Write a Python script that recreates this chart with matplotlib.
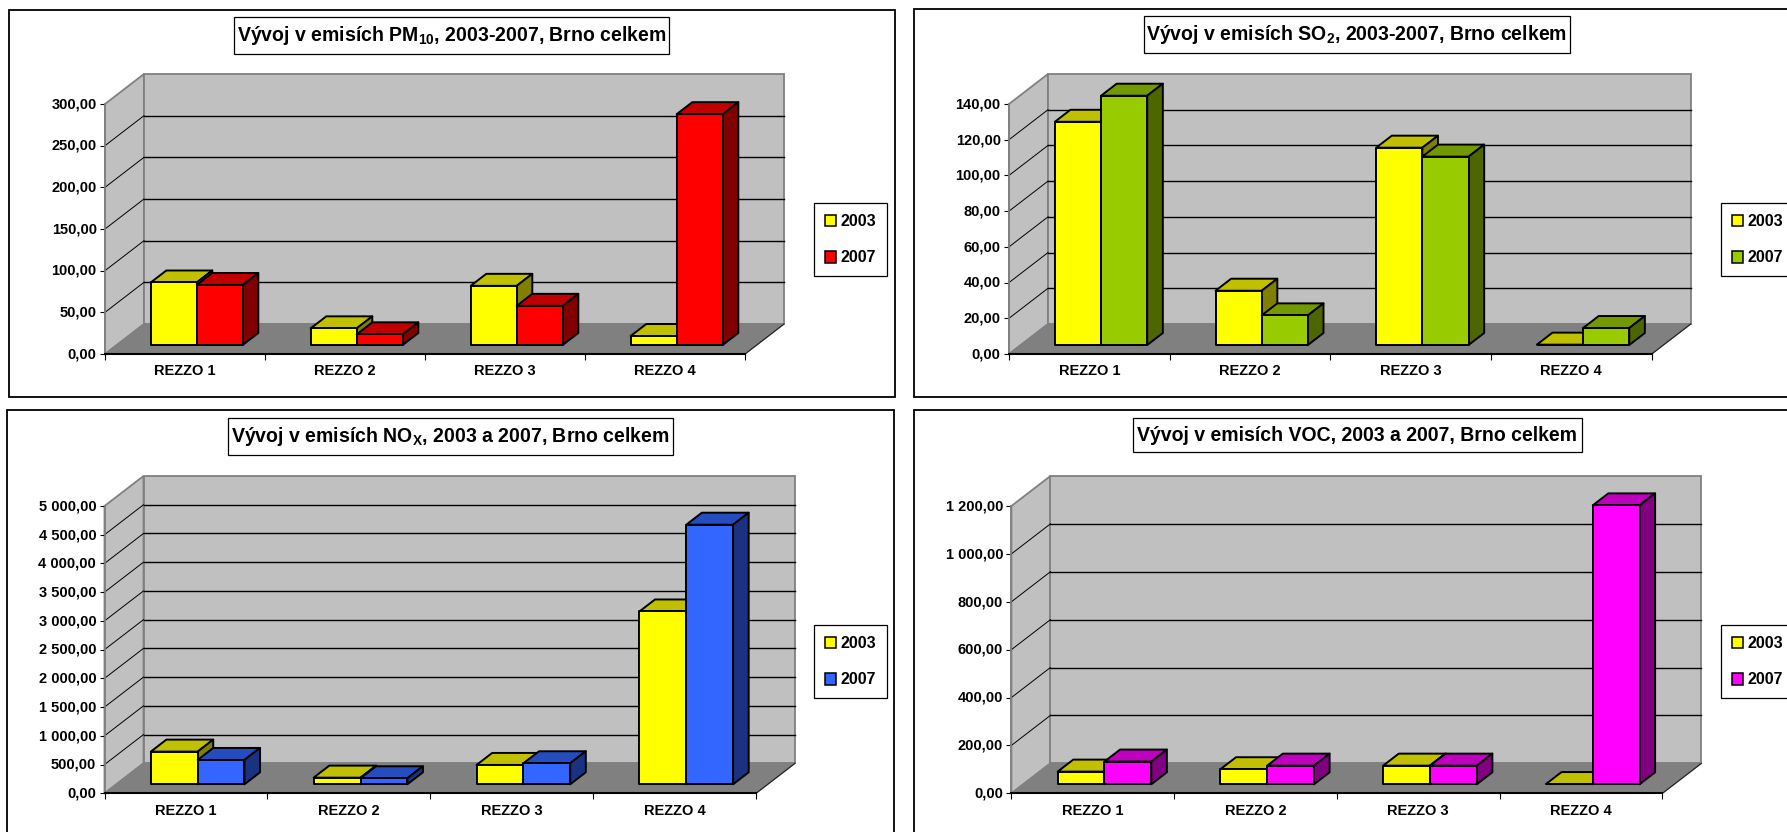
import matplotlib
matplotlib.use("Agg")
import matplotlib.pyplot as plt
from matplotlib.patches import Patch, Polygon, Rectangle
from matplotlib.ticker import FuncFormatter
from matplotlib.transforms import ScaledTranslation

plt.rcParams["font.family"] = ["Liberation Sans", "DejaVu Sans"]
plt.rcParams["font.weight"] = "bold"
plt.rcParams["mathtext.fontset"] = "custom"
plt.rcParams["mathtext.rm"] = "Liberation Sans:bold"
plt.rcParams["mathtext.default"] = "rm"

W, H = 1787, 832

categories = ["REZZO 1", "REZZO 2", "REZZO 3", "REZZO 4"]
years = ["2003", "2007"]

pm10_2003 = [75, 20, 71, 10.8]
pm10_2007 = [72, 12.8, 47, 277]
so2_2003 = [125, 30.4, 110.5, 0.2]
so2_2007 = [139.6, 16.6, 105.5, 9.5]
nox_2003 = [569, 116, 337, 3008]
nox_2007 = [424, 105, 366, 4518]
voc_2003 = [53, 63, 78, 1]
voc_2007 = [95, 78, 78, 1165]

pm10_ticks = [0, 50, 100, 150, 200, 250, 300]
so2_ticks = [0, 20, 40, 60, 80, 100, 120, 140]
nox_ticks = [0, 500, 1000, 1500, 2000, 2500, 3000, 3500, 4000, 4500, 5000]
voc_ticks = [0, 200, 400, 600, 800, 1000, 1200]

# front plane (left, right, top, bottom), title box and legend corner, in reference pixels
panels = [
    dict(title=r"Vývoj v emisích PM$_{10}$, 2003-2007, Brno celkem",
         first=pm10_2003, second=pm10_2007, ticks=pm10_ticks,
         colors=("#FF0000", "#C00000", "#800000"),
         frame=(8.6, 10, 895, 397), front=(105, 745, 104, 354),
         box=(234, 17.3, 669, 54.3), legend=(814, 203)),
    dict(title=r"Vývoj v emisích SO$_{2}$, 2003-2007, Brno celkem",
         first=so2_2003, second=so2_2007, ticks=so2_ticks,
         colors=("#99CC00", "#739900", "#4D6600"),
         frame=(913.6, 9, 1795, 397), front=(1009, 1651.7, 104, 354),
         box=(1143.8, 16, 1570, 52.7), legend=(1720.7, 203)),
    dict(title=r"Vývoj v emisích NO$_{X}$, 2003 a 2007, Brno celkem",
         first=nox_2003, second=nox_2007, ticks=nox_ticks,
         colors=("#3366FF", "#264DBF", "#1A3380"),
         frame=(7, 410, 894, 840), front=(104.5, 756, 506, 793.3),
         box=(228, 418, 673, 454.7), legend=(814, 625)),
    dict(title="Vývoj v emisích VOC, 2003 a 2007, Brno celkem",
         first=voc_2003, second=voc_2007, ticks=voc_ticks,
         colors=("#FF00FF", "#BF00BF", "#800080"),
         frame=(913.6, 410, 1795, 840), front=(1011.4, 1662.4, 506, 793.3),
         box=(1132.5, 418, 1581.5, 452.3), legend=(1720.7, 625)),
]

YELLOW = ("#FFFF00", "#C0C000", "#808000")
DEPTH_X = 39
DEPTH_Y = 30
BAR_WIDTH = 0.2875
BAR_GAP = 0.2125
Z_FRONT = 0.3
Z_BACK = 0.7


def tick_text(v, pos):
    return f"{v:,.2f}".replace(",", " ").replace(".", ",")


def draw_bar(ax, x, value, colors, ddx, ddy):
    # oblique box: front, side and top faces in data units
    def pt(px, py, z):
        return (px + z * ddx, py + z * ddy)

    x2 = x + BAR_WIDTH
    top = [pt(x, value, Z_FRONT), pt(x2, value, Z_FRONT), pt(x2, value, Z_BACK), pt(x, value, Z_BACK)]
    side = [pt(x2, 0, Z_FRONT), pt(x2, 0, Z_BACK), pt(x2, value, Z_BACK), pt(x2, value, Z_FRONT)]
    front = [pt(x, 0, Z_FRONT), pt(x2, 0, Z_FRONT), pt(x2, value, Z_FRONT), pt(x, value, Z_FRONT)]
    for face, color in zip([top, side, front], [colors[1], colors[2], colors[0]]):
        ax.add_patch(Polygon(face, closed=True, facecolor=color, edgecolor="black",
                             linewidth=1.4, joinstyle="round", clip_on=False, zorder=4))


fig = plt.figure(figsize=(W / 100, H / 100), dpi=100, facecolor="white")

bg = fig.add_axes([0, 0, 1, 1])
bg.set_xlim(0, W)
bg.set_ylim(H, 0)
bg.axis("off")

for p in panels:
    x0, y0, x1, y1 = p["frame"]
    bg.add_patch(Rectangle((x0, y0), x1 - x0, y1 - y0, facecolor="white", edgecolor="black", linewidth=1.3))
    bx0, by0, bx1, by1 = p["box"]
    bg.add_patch(Rectangle((bx0, by0), bx1 - bx0, by1 - by0, facecolor="white", edgecolor="black",
                           linewidth=0.9, zorder=3))
    bg.text((bx0 + bx1) / 2, (by0 + by1) / 2, p["title"], ha="center", va="center", fontsize=14.05,
            fontweight="bold", zorder=4)

    left, right, top, bottom = p["front"]
    ax = fig.add_axes([left / W, 1 - bottom / H, (right - left) / W, (bottom - top) / H])
    ax.patch.set_visible(False)
    ymax = p["ticks"][-1]
    ax.set_xlim(0, 4)
    ax.set_ylim(0, ymax)
    ddx = DEPTH_X / (right - left) * 4
    ddy = DEPTH_Y / (bottom - top) * ymax

    wall_kw = dict(closed=True, edgecolor="#808080", linewidth=1.3, clip_on=False, zorder=1)
    ax.add_patch(Polygon([(0, 0), (ddx, ddy), (ddx, ymax + ddy), (0, ymax)], facecolor="#C0C0C0", **wall_kw))
    ax.add_patch(Polygon([(ddx, ddy), (4 + ddx, ddy), (4 + ddx, ymax + ddy), (ddx, ymax + ddy)],
                         facecolor="#C0C0C0", **wall_kw))
    ax.add_patch(Polygon([(0, 0), (4, 0), (4 + ddx, ddy), (ddx, ddy)], closed=True, facecolor="#808080",
                         edgecolor="#808080", clip_on=False, zorder=1))
    ax.plot([4, 4 + ddx], [0, ddy], color="#202020", lw=0.8, clip_on=False, zorder=2)

    for v in p["ticks"][1:-1]:
        ax.plot([ddx, 4 + ddx], [v + ddy, v + ddy], color="black", lw=1.0, clip_on=False, zorder=2)
        ax.plot([0, ddx], [v, v + ddy], color="black", lw=0.7, clip_on=False, zorder=2)

    for i in range(len(categories)):
        x = i + BAR_GAP
        draw_bar(ax, x, p["first"][i], YELLOW, ddx, ddy)
        draw_bar(ax, x + BAR_WIDTH, p["second"][i], p["colors"], ddx, ddy)

    for name in ["top", "right"]:
        ax.spines[name].set_visible(False)
    ax.spines["left"].set_color("#808080")
    ax.spines["left"].set_linewidth(1.3)
    ax.spines["bottom"].set_linewidth(1.5)

    ax.set_yticks(p["ticks"])
    ax.yaxis.set_major_formatter(FuncFormatter(tick_text))
    ax.tick_params(axis="y", length=3.5, width=0.8, pad=2.5, labelsize=10.5)
    nudge = ScaledTranslation(0, 1.2 / 100, fig.dpi_scale_trans)
    for lab in ax.get_yticklabels():
        lab.set_transform(lab.get_transform() + nudge)
    ax.set_xticks(range(5))
    ax.set_xticklabels([])
    ax.set_xticks([i + 0.5 for i in range(4)], minor=True)
    ax.set_xticklabels(categories, minor=True, fontsize=10.5)
    ax.tick_params(axis="x", which="major", length=4, width=0.8)
    ax.tick_params(axis="x", which="minor", length=0, pad=7.5)

    handles = [Patch(facecolor=YELLOW[0], edgecolor="black", linewidth=1.1, label=years[0]),
               Patch(facecolor=p["colors"][0], edgecolor="black", linewidth=1.1, label=years[1])]
    leg = ax.legend(handles=handles, loc="upper left", bbox_to_anchor=p["legend"], bbox_transform=bg.transData,
                    fontsize=11.5, frameon=True, fancybox=False, edgecolor="black", framealpha=1,
                    borderpad=0.68, borderaxespad=0, handlelength=0.72, handleheight=0.72,
                    handletextpad=0.25, labelspacing=1.35)
    leg.get_frame().set_linewidth(0.9)

fig.savefig("out.png", dpi=100)
